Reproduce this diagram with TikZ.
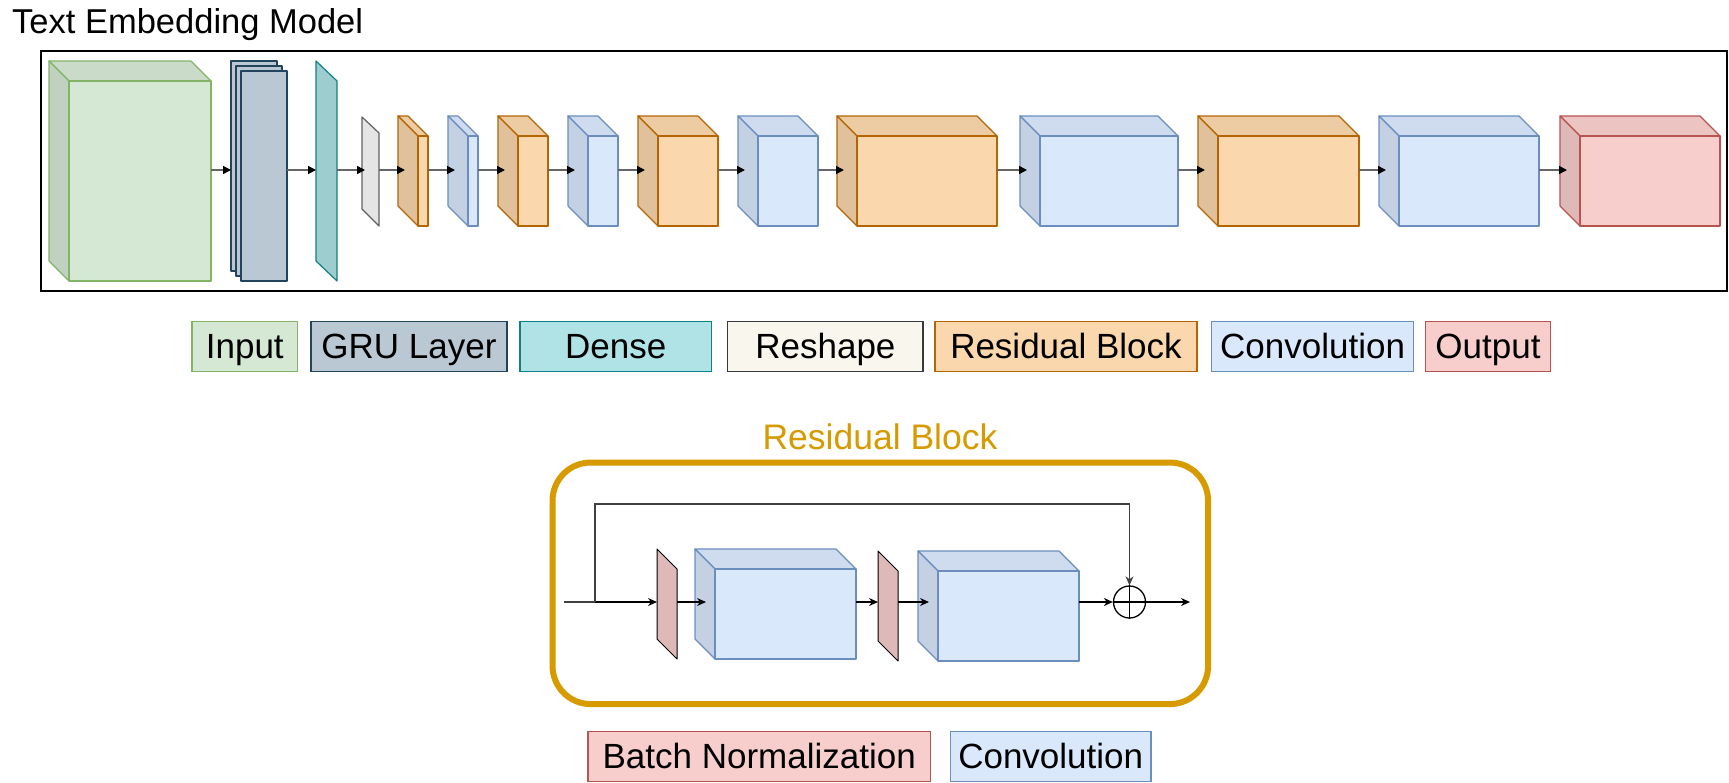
\documentclass[tikz,border=0pt]{standalone}
\usepackage{fontspec}
\setmainfont{Liberation Sans}
\usetikzlibrary{arrows.meta,calc}
\definecolor{inF}{HTML}{D5E8D4}\definecolor{inS}{HTML}{82B366}
\definecolor{gruF}{HTML}{BAC8D3}\definecolor{gruS}{HTML}{23445D}
\definecolor{denF}{HTML}{B0E3E6}\definecolor{denS}{HTML}{0E8088}
\definecolor{shpF}{HTML}{F9F7ED}\definecolor{shpS}{HTML}{36393D}
\definecolor{rbF}{HTML}{FAD7AC}\definecolor{rbS}{HTML}{B46504}
\definecolor{cvF}{HTML}{DAE8FC}\definecolor{cvS}{HTML}{6C8EBF}
\definecolor{outF}{HTML}{F8CECC}\definecolor{outS}{HTML}{B85450}
\definecolor{frameC}{HTML}{D79B00}
\definecolor{arrC}{HTML}{666666}
\newcommand{\tipin}{7}
\newcommand{\mycube}[9]{%
  \filldraw[fill=#7!95!black, draw=#8, cubeline] (#2,#3) -- ++(-#6,-#6) -- ++(#4,0) -- ++(#6,#6) -- cycle;
  \filldraw[fill=#7!90!black, draw=#8, cubeline] (#2,#3) -- ++(-#6,-#6) -- ++(0,#5) -- ++(#6,#6) -- cycle;
  \node[cubeface, draw=#8, fill=#7, minimum width=#4pt, minimum height=#5pt] (#1) at (#2,#3) {};
  \coordinate (#1-i) at (#2-#6+\tipin,#9);
  \coordinate (#1-o) at (#2+#4,#9);
}
\tikzset{
  cubeline/.style={line width=1.2pt, line join=round},
  cubeface/.style={cubeline, inner sep=0pt, outer sep=0pt, anchor=north west},
  toparr/.style={draw=arrC, line width=1.6pt, -{Triangle[length=8pt,width=8pt,color=black]}},
  resarr/.style={draw=black, line width=1.3pt, -{Stealth[length=9pt,width=8pt]}},
  bigfont/.style={font=\fontsize{35}{42}\selectfont},
  legbox/.style={draw, line width=1.2pt, minimum height=50pt, inner sep=0pt, text height=25pt, text depth=2pt, bigfont},
}
\begin{document}
\begin{tikzpicture}[x=1pt,y=-1pt]
\useasboundingbox (0,0) rectangle (1729,782);
\fill[white] (0,0) rectangle (1729,782);

% ---- Title and outer frame
\node[anchor=base west, inner sep=0pt, font=\fontsize{34.5}{41}\selectfont] (temtitle) at (12,33) {Text Embedding Model};
\node[draw=black, line width=2pt, minimum width=1686pt, minimum height=240pt, inner sep=0pt] (tem) at (884,171) {};

% ---- Input
\mycube{inp}{69}{81}{142}{200}{20}{inF}{inS}{170}

% ---- GRU stack
\node[cubeface, draw=gruS, fill=gruF, minimum width=46pt, minimum height=210pt] (gru1) at (231,61) {};
\node[cubeface, draw=gruS, fill=gruF, minimum width=46pt, minimum height=210pt] (gru2) at (236,66) {};
\node[cubeface, draw=gruS, fill=gruF, minimum width=46pt, minimum height=210pt] (gru3) at (241,71) {};
\coordinate (gru-i) at (231,170);
\coordinate (gru-o) at (287,170);

% ---- Dense
\filldraw[fill=denF!90!black, draw=denS, cubeline] (316,61) -- (337,81) -- (337,281) -- (316,261) -- cycle;
\coordinate (den-i) at (316,170);
\coordinate (den-o) at (337,170);

% ---- Reshape
\filldraw[fill=white!90!black, draw=shpS!80!white, cubeline] (362,117) -- (379,133) -- (379,226) -- (362,209) -- cycle;
\coordinate (shp-i) at (365,170);
\coordinate (shp-o) at (379,170);

% ---- Blocks
\mycube{rb1}{418}{136}{10}{90}{20}{rbF}{rbS}{170}
\mycube{cv1}{468}{136}{10}{90}{20}{cvF}{cvS}{170}
\mycube{rb2}{518}{136}{30}{90}{20}{rbF}{rbS}{170}
\mycube{cv2}{588}{136}{30}{90}{20}{cvF}{cvS}{170}
\mycube{rb3}{658}{136}{60}{90}{20}{rbF}{rbS}{170}
\mycube{cv3}{758}{136}{60}{90}{20}{cvF}{cvS}{170}
\mycube{rb4}{857}{136}{140}{90}{20}{rbF}{rbS}{170}
\mycube{cv4}{1040}{136}{138}{90}{20}{cvF}{cvS}{170}
\mycube{rb5}{1218}{136}{141}{90}{20}{rbF}{rbS}{170}
\mycube{cv5}{1399}{136}{140}{90}{20}{cvF}{cvS}{170}
\mycube{out}{1580}{136}{140}{90}{20}{outF}{outS}{170}

% ---- Top row connectors
\draw[toparr] (inp-o) -- (gru-i);
\draw[toparr] (gru-o) -- (den-i);
\draw[toparr] (den-o) -- (shp-i);
\draw[toparr] (shp-o) -- (rb1-i);
\draw[toparr] (rb1-o) -- (cv1-i);
\draw[toparr] (cv1-o) -- (rb2-i);
\draw[toparr] (rb2-o) -- (cv2-i);
\draw[toparr] (cv2-o) -- (rb3-i);
\draw[toparr] (rb3-o) -- (cv3-i);
\draw[toparr] (cv3-o) -- (rb4-i);
\draw[toparr] (rb4-o) -- (cv4-i);
\draw[toparr] (cv4-o) -- (rb5-i);
\draw[toparr] (rb5-o) -- (cv5-i);
\draw[toparr] (cv5-o) -- (out-i);

% ---- Legend row 1
\node[legbox, draw=inS, fill=inF, minimum width=105.6pt] (lg-in) at (244.8,346.7) {Input};
\node[legbox, draw=gruS, fill=gruF, minimum width=196pt] (lg-gru) at (409,346.7) {GRU Layer};
\node[legbox, draw=denS, fill=denF, minimum width=191.6pt] (lg-den) at (615.8,346.7) {Dense};
\node[legbox, draw=shpS, fill=shpF, minimum width=195.3pt] (lg-shp) at (825.4,346.7) {Reshape};
\node[legbox, draw=rbS, fill=rbF, minimum width=262pt] (lg-rb) at (1066,346.7) {Residual Block};
\node[legbox, draw=cvS, fill=cvF, minimum width=201.8pt] (lg-cv) at (1312.6,346.7) {Convolution};
\node[legbox, draw=outS, fill=outF, minimum width=125.2pt] (lg-out) at (1488,346.7) {Output};

% ---- Residual block detail
\node[anchor=base, inner sep=0pt, text=frameC, font=\fontsize{35.5}{42}\selectfont] (rbtitle) at (880,449) {Residual Block};
\node[draw=frameC, line width=6pt, rounded corners=38pt, minimum width=655.5pt, minimum height=241.5pt, inner sep=0pt] (rbframe) at (880.3,583.3) {};

\renewcommand{\tipin}{11}
\filldraw[fill=outF!90!black, draw=black, line width=1pt, line join=round] (657,549) -- (677,569) -- (677,659) -- (657,639) -- cycle;
\coordinate (bn1-i) at (657,602);
\coordinate (bn1-o) at (677,602);
\mycube{rc1}{715}{569}{141}{90}{20}{cvF}{cvS}{602}
\filldraw[fill=outF!90!black, draw=black, line width=1pt, line join=round] (878,551) -- (898,571) -- (898,661) -- (878,641) -- cycle;
\coordinate (bn2-i) at (878,602);
\coordinate (bn2-o) at (898,602);
\mycube{rc2}{938}{571}{141}{90}{20}{cvF}{cvS}{602}

\node[circle, draw=black, line width=1.3pt, minimum size=32pt, inner sep=0pt] (plus) at (1129.5,602) {};
\draw[line width=1.3pt] (plus.north) -- (plus.south);
\draw[line width=1.3pt] (plus.west) -- (plus.east);

\coordinate (rb-in) at (564,602);
\coordinate (rb-br) at (595,602);
\coordinate (rb-top) at (595,504);
\coordinate (rb-out) at (1190,602);

\draw[line width=1.3pt, draw=black!75] (rb-in) -- (rb-br);
\draw[resarr] (rb-br) -- (bn1-i);
\draw[resarr] (bn1-o) -- (rc1-i);
\draw[resarr] (rc1-o) -- (bn2-i);
\draw[resarr] (bn2-o) -- (rc2-i);
\draw[resarr] (rc2-o) -- (plus.west);
\draw[resarr] (plus.east) -- (rb-out);
\draw[resarr, draw=black!75] (rb-br) -- (rb-top) -| (plus.north);

% ---- Legend row 2
\node[legbox, draw=outS, fill=outF, minimum width=342.4pt] (lg-bn) at (759.2,756.7) {Batch Normalization};
\node[legbox, draw=cvS, fill=cvF, minimum width=200.6pt] (lg-cv2) at (1050.7,756.7) {Convolution};
\end{tikzpicture}
\end{document}
